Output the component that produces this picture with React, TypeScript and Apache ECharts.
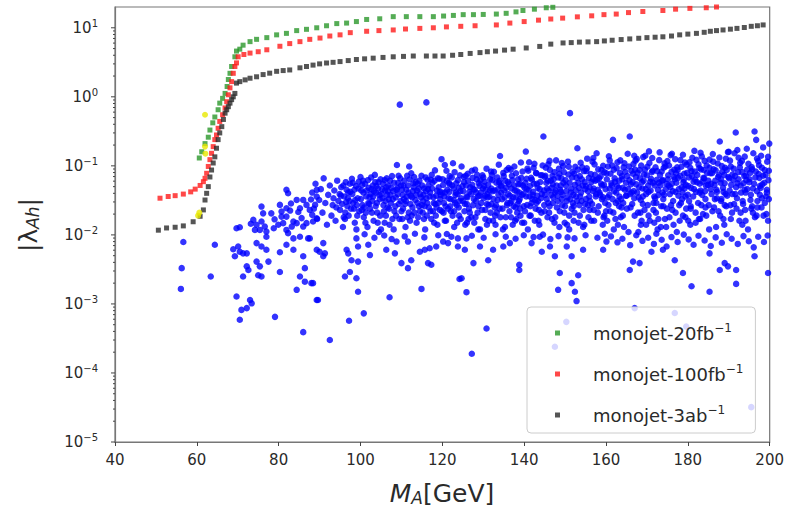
import { useEffect, useRef } from "react";
import * as echarts from "echarts";

const FONT = "DejaVu Sans";

// Parameter-scan points (M_A in GeV, |lambda_Ah|)
const scanPoints: [number, number][] = [
  // low-mass region
  [56.7,0.0079],[64.4,0.0072],[56.3,0.0033],[56.1,0.00165],[63.4,0.0025],[69.7,0.0125],[70.5,0.0129],[73.8,0.0165],
  [74.6,0.014],[75.4,0.0118],[76.6,0.0132],[77.0,0.0112],[74.2,0.0118],[77.0,0.0094],[75.8,0.0156],[68.9,0.0062],
  [70.1,0.0068],[71.3,0.0054],[70.5,0.0057],[72.2,0.0054],[69.3,0.0049],[74.6,0.0076],[75.8,0.0068],[77.0,0.0061],
  [72.2,0.0035],[72.6,0.0031],[74.6,0.0041],[75.4,0.0035],[77.5,0.0041],[75.0,0.0026],[71.3,0.0025],[75.8,0.0025],
  [80.3,0.0029],[69.7,0.00128],[73.0,0.00114],[73.4,0.00102],[70.9,0.00082],[72.2,0.00087],[70.5,0.00059],[79.1,0.00065],
  [86.0,0.00039],[75.8,0.0257],[81.9,0.0449],[82.3,0.0401],[80.3,0.0272],[81.9,0.0243],[84.4,0.0321],[86.0,0.0321],
  [86.8,0.0272],[85.2,0.0243],[87.6,0.023],[89.3,0.0449],[89.3,0.0359],[88.9,0.0272],[79.9,0.014],[81.1,0.0148],
  [81.9,0.0184],[83.2,0.0132],[83.6,0.0156],[84.4,0.0148],[86.0,0.0132],[86.8,0.0148],[88.4,0.0156],[89.3,0.0174],
  [80.7,0.0184],[80.7,0.0218],[81.9,0.0118],[82.3,0.0106],[83.6,0.0089],[85.2,0.0094],[87.2,0.0089],[81.9,0.0072],
  [83.6,0.0061],[86.0,0.0049],[86.4,0.0033],[84.4,0.0016],[85.2,0.0025],[86.4,0.0021],[88.0,0.002],[80.3,0.0056],
  [89.3,0.00114],[89.3,0.0061],[78.2,0.0205],[79.0,0.0168],[83.0,0.0285],[84.8,0.0215],[87.9,0.0325],[88.2,0.0195],
  [85.6,0.0175],[82.8,0.0225],[78.8,0.0125],[76.2,0.0205],[73.2,0.0145],
  // 88-100
  [88.2,0.041],[88.6,0.024],[89.0,0.055],[89.4,0.017],[89.9,0.032],[90.3,0.046],[90.7,0.021],[91.0,0.066],[91.4,0.029],
  [91.8,0.014],[92.1,0.038],[92.5,0.052],[92.9,0.019],[93.2,0.027],[93.6,0.044],[93.9,0.016],[94.3,0.061],[94.6,0.031],
  [95.0,0.023],[95.3,0.049],[95.7,0.013],[96.0,0.036],[96.4,0.058],[96.8,0.026],[97.1,0.019],[97.5,0.042],[97.9,0.065],
  [98.2,0.029],[98.6,0.015],[98.9,0.051],[99.3,0.034],[99.7,0.022],[100.0,0.069],[100.2,0.044],[93.4,0.034],[94.9,0.039],
  [96.2,0.017],[97.3,0.031],[98.4,0.024],[99.5,0.047],[95.5,0.028],[96.6,0.045],[99.0,0.012],[94.1,0.025],
  // 100-110
  [100.5,0.027],[100.8,0.018],[101.1,0.055],[101.4,0.036],[101.7,0.013],[102.0,0.048],[102.3,0.024],[102.6,0.068],
  [102.9,0.031],[103.2,0.016],[103.5,0.074],[103.8,0.041],[104.1,0.021],[104.4,0.058],[104.7,0.033],[105.0,0.012],
  [105.3,0.046],[105.6,0.027],[105.9,0.062],[106.2,0.019],[106.5,0.038],[106.8,0.052],[107.1,0.014],[107.4,0.029],
  [107.7,0.071],[108.0,0.043],[108.3,0.022],[108.6,0.035],[108.9,0.103],[109.2,0.057],[109.5,0.017],[109.8,0.031],
  [100.7,0.041],[101.9,0.029],[103.0,0.052],[104.2,0.015],[105.4,0.034],[106.6,0.025],[107.8,0.017],[109.0,0.048],
  [101.3,0.021],[102.5,0.039],[103.7,0.026],[104.9,0.064],[106.0,0.044],[107.3,0.038],[108.5,0.026],[109.7,0.066],
  [104.5,0.011],[106.9,0.033],
  // 110-120
  [110.1,0.045],[110.4,0.024],[110.7,0.061],[111.0,0.013],[111.3,0.036],[111.6,0.052],[111.9,0.098],[112.2,0.028],
  [112.5,0.019],[112.8,0.043],[113.1,0.069],[113.4,0.032],[113.7,0.015],[114.0,0.055],[114.3,0.026],[114.6,0.039],
  [114.9,0.072],[115.2,0.021],[115.5,0.047],[115.8,0.012],[116.1,0.034],[116.4,0.063],[116.7,0.025],[117.0,0.041],
  [117.3,0.017],[117.6,0.057],[117.9,0.029],[118.2,0.086],[118.5,0.037],[118.8,0.014],[119.1,0.049],[119.4,0.023],
  [119.8,0.125],[110.6,0.033],[111.8,0.021],[112.9,0.056],[114.1,0.018],[115.3,0.031],[116.5,0.046],[117.7,0.022],
  [118.9,0.066],[110.2,0.017],[111.4,0.072],[112.6,0.035],[113.8,0.044],[115.0,0.027],[116.2,0.019],[117.4,0.074],
  [118.6,0.025],[119.6,0.038],
  // 120-130
  [120.1,0.064],[120.4,0.029],[120.6,0.103],[120.9,0.016],[121.2,0.045],[121.5,0.034],[121.8,0.071],[122.1,0.022],
  [122.4,0.052],[122.6,0.109],[122.9,0.013],[123.2,0.038],[123.5,0.027],[123.8,0.062],[124.1,0.019],[124.4,0.043],
  [124.7,0.098],[125.0,0.031],[125.3,0.058],[125.6,0.014],[125.9,0.036],[126.2,0.077],[126.5,0.024],[126.8,0.049],
  [127.1,0.018],[127.4,0.067],[127.7,0.033],[128.0,0.088],[128.3,0.041],[128.6,0.021],[128.9,0.056],[129.2,0.012],
  [129.5,0.029],[129.8,0.073],[120.7,0.041],[121.9,0.026],[123.0,0.081],[124.2,0.031],[125.4,0.022],[126.6,0.042],
  [127.8,0.015],[129.0,0.037],[120.3,0.021],[121.6,0.057],[122.8,0.032],[124.0,0.048],[125.2,0.069],[126.4,0.017],
  [127.6,0.046],[128.8,0.026],[129.9,0.047],[123.6,0.015],[126.0,0.028],[128.4,0.064],[121.0,0.085],
  // 130-140
  [130.2,0.051],[130.5,0.023],[130.8,0.091],[131.1,0.035],[131.4,0.016],[131.7,0.064],[132.0,0.028],[132.3,0.043],
  [132.6,0.082],[132.9,0.019],[133.2,0.057],[133.5,0.032],[133.8,0.104],[134.1,0.139],[134.4,0.041],[134.7,0.024],
  [135.0,0.071],[135.3,0.013],[135.6,0.048],[135.9,0.029],[136.2,0.093],[136.5,0.037],[136.8,0.018],[137.1,0.062],
  [137.4,0.026],[137.7,0.044],[138.0,0.078],[138.3,0.021],[138.6,0.054],[138.9,0.033],[139.2,0.112],[139.5,0.015],
  [139.8,0.039],[130.4,0.037],[131.6,0.044],[132.8,0.025],[134.0,0.061],[135.2,0.035],[136.4,0.022],[137.6,0.098],
  [138.8,0.041],[130.9,0.014],[132.1,0.074],[133.3,0.021],[134.5,0.052],[135.7,0.087],[136.9,0.031],[138.1,0.017],
  [139.3,0.067],[131.3,0.027],[133.6,0.046],[136.0,0.058],[138.4,0.028],[139.7,0.052],[130.0,0.068],[132.4,0.016],
  [134.8,0.012],[137.2,0.014],[139.0,0.024],
  // 140-150
  [140.1,0.048],[140.4,0.161],[140.7,0.027],[141.0,0.085],[141.3,0.036],[141.6,0.019],[141.9,0.063],[142.2,0.042],
  [142.5,0.107],[142.8,0.024],[143.1,0.055],[143.4,0.031],[143.7,0.014],[144.0,0.073],[144.3,0.039],[144.7,0.266],
  [145.0,0.022],[145.3,0.094],[145.6,0.047],[145.9,0.029],[146.2,0.118],[146.5,0.061],[146.8,0.017],[147.1,0.035],
  [147.4,0.081],[147.7,0.044],[148.0,0.025],[148.3,0.068],[148.6,0.013],[148.9,0.052],[149.2,0.033],[149.5,0.099],
  [149.8,0.021],[140.6,0.065],[141.8,0.029],[143.0,0.078],[144.2,0.021],[145.4,0.057],[146.6,0.038],[147.8,0.12],
  [149.0,0.042],[140.2,0.022],[141.4,0.051],[142.6,0.016],[143.8,0.046],[145.0,0.069],[146.2,0.026],[147.4,0.015],
  [148.6,0.077],[149.6,0.057],[142.0,0.033],[144.5,0.101],[146.9,0.072],[149.3,0.027],[140.9,0.012],[143.2,0.037],
  [145.7,0.018],[148.1,0.037],[141.2,0.113],[147.0,0.054],
  // 150-160
  [150.1,0.062],[150.4,0.031],[150.7,0.115],[151.0,0.019],[151.2,0.58],[151.5,0.047],[151.8,0.082],[152.1,0.026],
  [152.4,0.053],[152.7,0.036],[153.0,0.18],[153.3,0.015],[153.6,0.071],[153.9,0.041],[154.2,0.095],[154.5,0.023],
  [154.8,0.058],[155.1,0.033],[155.4,0.127],[155.7,0.018],[156.0,0.049],[156.3,0.076],[156.6,0.028],[156.9,0.043],
  [157.2,0.105],[157.7,0.152],[158.0,0.021],[158.3,0.066],[158.6,0.038],[158.9,0.087],[159.2,0.014],[159.5,0.053],
  [159.8,0.029],[150.3,0.043],[151.6,0.024],[152.8,0.067],[154.0,0.031],[155.2,0.084],[156.4,0.016],[157.6,0.039],
  [158.8,0.055],[150.8,0.075],[152.0,0.038],[153.2,0.057],[154.4,0.013],[155.6,0.027],[156.8,0.064],[158.0,0.045],
  [159.3,0.1],[150.5,0.014],[152.5,0.097],[154.9,0.046],[157.0,0.023],[159.0,0.033],[151.3,0.033],[153.5,0.027],
  [155.9,0.036],[157.4,0.061],[159.6,0.019],[153.8,0.111],
  // 160-170
  [160.1,0.078],[160.4,0.035],[160.7,0.138],[161.0,0.022],[161.3,0.056],[161.7,0.238],[162.0,0.043],[162.3,0.017],
  [162.6,0.093],[162.9,0.031],[163.2,0.061],[163.5,0.12],[163.8,0.025],[164.1,0.048],[164.4,0.013],[164.7,0.082],
  [165.0,0.037],[165.3,0.15],[165.8,0.266],[166.1,0.054],[166.4,0.028],[166.7,0.106],[167.0,0.019],[167.3,0.069],
  [167.6,0.041],[167.9,0.011],[168.2,0.087],[168.5,0.032],[168.8,0.058],[169.1,0.134],[169.4,0.023],[169.7,0.046],
  [160.3,0.016],[161.5,0.101],[162.7,0.051],[163.9,0.071],[165.1,0.024],[166.3,0.041],[167.5,0.126],[168.7,0.016],
  [160.9,0.047],[162.1,0.066],[163.3,0.036],[164.5,0.109],[165.7,0.062],[166.9,0.034],[168.1,0.049],[169.3,0.075],
  [160.6,0.027],[161.9,0.012],[163.6,0.018],[165.5,0.011],[167.1,0.088],[169.0,0.036],[164.2,0.029],[166.6,0.077],
  [168.4,0.021],[162.4,0.029],[164.9,0.057],[169.8,0.014],
  // 170-180
  [170.1,0.097],[170.4,0.042],[170.7,0.016],[171.0,0.065],[171.3,0.13],[171.6,0.029],[171.9,0.052],[172.2,0.021],
  [172.5,0.084],[172.8,0.038],[173.1,0.157],[173.4,0.013],[173.7,0.061],[174.0,0.033],[174.3,0.109],[174.6,0.046],
  [174.9,0.024],[175.2,0.073],[175.5,0.018],[175.8,0.143],[176.1,0.055],[176.4,0.031],[176.7,0.088],[177.0,0.042],
  [177.3,0.011],[177.6,0.067],[177.9,0.027],[178.2,0.121],[178.5,0.049],[178.8,0.019],[179.1,0.077],[179.4,0.036],
  [179.7,0.104],[170.2,0.027],[171.4,0.085],[172.6,0.012],[173.8,0.041],[175.0,0.117],[176.2,0.023],[177.4,0.095],
  [178.6,0.033],[170.8,0.059],[172.0,0.034],[173.2,0.074],[174.4,0.017],[175.6,0.039],[176.8,0.064],[178.0,0.016],
  [179.2,0.047],[170.5,0.162],[172.9,0.057],[175.3,0.052],[177.7,0.037],[179.6,0.024],[171.8,0.015],[174.1,0.094],
  [176.5,0.014],[178.9,0.058],[173.5,0.026],[177.1,0.078],
  // 180-190
  [180.1,0.051],[180.4,0.113],[180.7,0.024],[181.0,0.071],[181.3,0.036],[181.6,0.165],[181.9,0.015],[182.2,0.058],
  [182.5,0.029],[182.8,0.093],[183.1,0.044],[183.4,0.137],[183.7,0.02],[184.0,0.066],[184.3,0.033],[184.6,0.101],
  [184.9,0.053],[185.2,0.012],[185.5,0.078],[185.8,0.039],[186.1,0.148],[186.4,0.025],[186.7,0.061],[187.0,0.045],
  [187.3,0.108],[187.8,0.225],[188.1,0.031],[188.4,0.082],[188.7,0.017],[189.0,0.056],[189.3,0.127],[189.6,0.037],
  [189.9,0.069],[180.3,0.031],[181.5,0.046],[182.7,0.017],[183.9,0.087],[185.1,0.027],[186.3,0.089],[187.5,0.022],
  [188.7,0.042],[180.9,0.084],[182.1,0.122],[183.3,0.027],[184.5,0.019],[185.7,0.055],[186.9,0.013],[188.1,0.064],
  [189.4,0.026],[180.6,0.014],[182.9,0.041],[185.3,0.123],[187.1,0.034],[189.1,0.094],[181.8,0.063],[184.2,0.043],
  [186.6,0.033],[188.9,0.014],[183.6,0.059],[187.6,0.073],
  // 190-200
  [190.2,0.044],[190.5,0.098],[190.8,0.021],[191.1,0.063],[191.4,0.152],[191.7,0.304],[192.0,0.034],[192.3,0.081],
  [192.6,0.016],[192.9,0.052],[193.2,0.118],[193.5,0.028],[193.8,0.071],[194.1,0.041],[194.4,0.177],[194.7,0.012],
  [195.0,0.058],[195.3,0.032],[195.6,0.096],[195.9,0.047],[196.3,0.314],[196.7,0.238],[197.0,0.025],[197.3,0.076],
  [197.6,0.038],[197.9,0.14],[198.2,0.054],[198.5,0.019],[198.8,0.087],[199.1,0.036],[199.4,0.115],[199.7,0.062],
  [199.9,0.21],[190.4,0.027],[191.6,0.039],[192.8,0.11],[194.0,0.023],[195.2,0.079],[196.4,0.018],[197.6,0.051],
  [198.8,0.029],[190.9,0.075],[192.1,0.056],[193.3,0.014],[194.5,0.088],[195.7,0.026],[196.9,0.128],[198.1,0.034],
  [199.3,0.045],[190.0,0.16],[191.9,0.024],[193.9,0.045],[195.9,0.021],[197.4,0.102],[199.6,0.016],[192.4,0.131],
  [194.3,0.062],[196.5,0.068],[198.4,0.072],[199.8,0.033],
  // denser core of the band, 95-125
  [95.2,0.037],[95.8,0.052],[96.3,0.021],[96.9,0.034],[97.4,0.055],[97.7,0.024],[98.0,0.039],[98.5,0.045],[99.1,0.027],
  [99.6,0.059],[100.1,0.033],[100.4,0.053],[100.9,0.025],[101.5,0.044],[101.8,0.062],[102.2,0.035],[102.8,0.021],
  [103.3,0.043],[103.6,0.058],[104.0,0.029],[104.3,0.047],[104.8,0.019],[95.9,0.018],[97.0,0.041],[98.1,0.057],
  [99.2,0.019],[100.3,0.023],[101.2,0.015],[102.1,0.028],[103.1,0.036],[104.6,0.038],[98.7,0.032],[96.5,0.03],
  [100.6,0.061],[102.7,0.046],[103.9,0.051],
  [105.1,0.039],[105.5,0.055],[105.7,0.022],[106.1,0.031],[106.4,0.066],[106.7,0.043],[107.0,0.024],[107.5,0.048],
  [107.9,0.033],[108.2,0.057],[108.7,0.019],[109.1,0.039],[109.4,0.028],[109.9,0.052],[110.3,0.038],[110.5,0.052],
  [110.9,0.028],[111.2,0.045],[111.5,0.018],[111.7,0.041],[112.0,0.064],[112.3,0.037],[112.7,0.025],[113.0,0.049],
  [113.2,0.021],[113.5,0.058],[113.9,0.029],[114.2,0.047],[114.5,0.022],[114.8,0.035],[105.9,0.015],[107.2,0.061],
  [108.1,0.012],[109.3,0.072],[110.0,0.022],[111.1,0.031],[112.1,0.016],[113.6,0.038],[114.4,0.061],[106.3,0.049],
  [108.8,0.045],[112.4,0.078],
  [115.1,0.052],[115.4,0.038],[115.7,0.026],[115.9,0.068],[116.3,0.029],[116.6,0.052],[116.9,0.036],[117.1,0.022],
  [117.5,0.047],[117.8,0.035],[118.1,0.061],[118.4,0.019],[118.7,0.044],[119.0,0.029],[119.3,0.065],[119.5,0.033],
  [119.9,0.022],[120.2,0.053],[120.5,0.036],[120.8,0.026],[121.1,0.061],[121.4,0.024],[121.7,0.042],[122.0,0.033],
  [122.3,0.068],[122.5,0.019],[122.8,0.047],[123.1,0.029],[123.4,0.056],[123.7,0.039],[124.0,0.025],[124.3,0.073],
  [124.6,0.034],[124.9,0.051],[116.0,0.043],[117.2,0.063],[118.3,0.028],[119.4,0.042],[120.6,0.016],[121.8,0.054],
  [122.9,0.022],[124.5,0.017],[115.5,0.017],[118.0,0.015],[120.0,0.041],[123.3,0.041],
  // denser core of the band, 125-155
  [125.1,0.043],[125.5,0.028],[125.8,0.052],[126.1,0.035],[126.3,0.061],[126.7,0.021],[127.0,0.039],[127.3,0.053],
  [127.5,0.027],[127.9,0.045],[128.2,0.031],[128.5,0.074],[128.7,0.036],[129.1,0.051],[129.4,0.041],[129.7,0.023],
  [130.1,0.034],[130.3,0.059],[130.6,0.045],[130.9,0.028],[131.2,0.053],[131.5,0.036],[131.8,0.021],[132.0,0.047],
  [132.2,0.062],[132.5,0.033],[132.8,0.044],[133.1,0.027],[133.4,0.068],[133.7,0.038],[134.0,0.024],[134.3,0.051],
  [134.6,0.033],[134.9,0.079],[126.0,0.015],[127.2,0.085],[128.1,0.018],[129.3,0.062],[130.5,0.017],[131.9,0.083],
  [133.0,0.014],[134.2,0.018],[125.7,0.072],[128.8,0.012],[131.0,0.039],[133.9,0.057],
  [135.1,0.044],[135.4,0.061],[135.8,0.027],[136.1,0.039],[136.3,0.054],[136.6,0.029],[136.9,0.047],[137.0,0.072],
  [137.3,0.035],[137.6,0.052],[137.9,0.025],[138.2,0.043],[138.5,0.064],[138.7,0.031],[139.0,0.055],[139.4,0.038],
  [139.6,0.083],[139.9,0.026],[140.3,0.057],[140.5,0.036],[140.8,0.091],[141.1,0.044],[141.5,0.026],[141.7,0.067],
  [142.1,0.038],[142.4,0.055],[142.7,0.032],[142.9,0.079],[143.3,0.048],[143.6,0.023],[143.9,0.058],[144.1,0.034],
  [144.4,0.073],[144.8,0.044],[135.5,0.018],[136.7,0.088],[137.8,0.016],[139.1,0.019],[140.0,0.015],[141.3,0.019],
  [142.3,0.094],[143.5,0.016],[144.9,0.027],[138.0,0.035],[140.6,0.046],[143.0,0.029],
  [145.1,0.038],[145.2,0.072],[145.5,0.033],[145.8,0.061],[146.0,0.044],[146.3,0.087],[146.7,0.048],[147.0,0.029],
  [147.2,0.064],[147.5,0.041],[147.9,0.052],[148.2,0.031],[148.5,0.091],[148.8,0.045],[149.1,0.066],[149.4,0.038],
  [149.7,0.081],[150.0,0.026],[150.2,0.052],[150.6,0.035],[150.9,0.097],[151.1,0.057],[151.4,0.041],[151.7,0.068],
  [151.9,0.029],[152.2,0.077],[152.6,0.044],[152.9,0.031],[153.1,0.088],[153.4,0.048],[153.7,0.036],[154.1,0.064],
  [154.3,0.052],[154.6,0.084],[154.9,0.028],[146.1,0.021],[147.6,0.018],[148.7,0.022],[149.9,0.015],[151.0,0.012],
  [152.1,0.016],[153.6,0.019],[154.7,0.014],[145.9,0.105],[149.2,0.11],[152.3,0.021],
  // denser core of the band, 155-185
  [155.1,0.051],[155.3,0.092],[155.6,0.043],[155.8,0.067],[156.1,0.031],[156.4,0.058],[156.7,0.115],[157.0,0.047],
  [157.3,0.074],[157.5,0.036],[157.8,0.063],[158.1,0.089],[158.4,0.041],[158.7,0.071],[159.0,0.052],[159.3,0.035],
  [159.6,0.081],[159.9,0.046],[160.2,0.064],[160.5,0.098],[160.8,0.038],[161.1,0.077],[161.4,0.052],[161.6,0.033],
  [161.9,0.088],[162.2,0.059],[162.5,0.041],[162.8,0.113],[163.1,0.048],[163.4,0.079],[163.7,0.033],[164.0,0.064],
  [164.3,0.095],[164.6,0.045],[164.9,0.037],[156.0,0.023],[157.1,0.016],[158.2,0.026],[159.4,0.018],[160.0,0.022],
  [161.8,0.021],[162.9,0.014],[164.1,0.019],[156.9,0.13],[160.9,0.12],[163.2,0.026],
  [165.2,0.071],[165.4,0.046],[165.6,0.098],[165.9,0.039],[166.2,0.085],[166.5,0.058],[166.8,0.043],[167.2,0.119],
  [167.4,0.054],[167.7,0.079],[168.0,0.035],[168.3,0.066],[168.6,0.101],[168.9,0.047],[169.2,0.061],[169.5,0.088],
  [169.8,0.039],[170.0,0.073],[170.3,0.052],[170.6,0.11],[170.9,0.044],[171.2,0.081],[171.5,0.057],[171.8,0.036],
  [172.1,0.095],[172.4,0.063],[172.7,0.045],[173.0,0.121],[173.3,0.052],[173.6,0.083],[173.9,0.062],[174.2,0.038],
  [174.5,0.098],[174.8,0.055],[166.0,0.025],[167.8,0.021],[169.0,0.028],[170.4,0.019],[171.6,0.023],[172.8,0.017],
  [174.0,0.026],[166.9,0.14],[169.6,0.14],[172.3,0.029],[174.7,0.013],[168.5,0.014],
  [175.1,0.064],[175.4,0.101],[175.7,0.049],[176.0,0.082],[176.3,0.043],[176.6,0.069],[176.9,0.125],[177.2,0.057],
  [177.5,0.087],[177.8,0.046],[178.1,0.072],[178.4,0.097],[178.7,0.041],[179.0,0.063],[179.3,0.112],[179.5,0.053],
  [179.8,0.079],[180.0,0.038],[180.3,0.068],[180.6,0.094],[180.8,0.048],[181.1,0.131],[181.4,0.059],[181.7,0.083],
  [182.0,0.042],[182.3,0.074],[182.6,0.105],[182.9,0.055],[183.2,0.089],[183.5,0.038],[183.8,0.067],[184.1,0.118],
  [184.4,0.052],[184.7,0.079],[175.9,0.027],[177.0,0.021],[178.3,0.029],[179.4,0.018],[180.7,0.026],[181.9,0.021],
  [183.0,0.017],[184.3,0.025],[176.1,0.15],[178.8,0.145],[183.1,0.155],[180.1,0.016],
  // denser core of the band, 185-200
  [185.0,0.061],[185.3,0.094],[185.6,0.046],[185.9,0.078],[186.2,0.115],[186.5,0.053],[186.8,0.086],[187.1,0.042],
  [187.4,0.069],[187.7,0.132],[188.0,0.057],[188.3,0.099],[188.6,0.048],[188.9,0.074],[189.2,0.039],[189.5,0.087],
  [189.8,0.158],[190.1,0.066],[190.3,0.119],[190.6,0.053],[190.9,0.039],[191.2,0.091],[191.5,0.071],[191.8,0.049],
  [192.1,0.17],[192.4,0.064],[192.7,0.095],[193.0,0.041],[193.3,0.081],[193.6,0.056],[193.9,0.136],[194.2,0.072],
  [194.5,0.046],[194.8,0.107],[195.1,0.064],[195.4,0.038],[195.7,0.089],[196.0,0.152],[196.2,0.055],[196.6,0.083],
  [196.9,0.043],[197.2,0.117],[197.5,0.067],[197.8,0.048],[198.1,0.094],[198.4,0.185],[198.7,0.057],[199.0,0.074],
  [199.3,0.041],[199.6,0.135],[199.8,0.085],[186.0,0.022],[187.9,0.019],[189.0,0.027],[190.5,0.017],[191.3,0.028],
  [192.9,0.021],[194.1,0.016],[195.5,0.024],[196.8,0.019],[198.0,0.025],[199.2,0.02],[188.2,0.033],[193.4,0.031],
  [197.0,0.031],
  // lower fringe of the band
  [161.2,0.0095],[162.8,0.0078],[164.0,0.0088],[165.9,0.0071],[167.4,0.0099],[168.9,0.0082],[170.3,0.0091],[171.7,0.0074],
  [172.3,0.0104],[173.6,0.0085],[174.8,0.0068],[176.0,0.0093],[177.5,0.0079],[179.0,0.0101],[180.2,0.0086],[181.4,0.0072],
  [182.6,0.0097],[184.1,0.0083],[185.6,0.0069],[186.8,0.0092],[188.3,0.0077],[189.5,0.0102],[190.7,0.0088],[192.2,0.0074],
  [193.6,0.0096],[194.9,0.0081],[196.1,0.0066],[197.2,0.0094],[198.6,0.0079],[199.5,0.0098],
  [101.0,0.0102],[103.4,0.0091],[105.8,0.0098],[107.6,0.0087],[110.8,0.0095],[113.3,0.0104],[115.6,0.0092],[119.0,0.0099],
  [121.1,0.0103],[122.2,0.0094],[127.2,0.0097],[130.1,0.0091],[133.0,0.0102],[135.5,0.0094],[137.9,0.0088],[139.9,0.0099],
  [142.3,0.0093],[144.6,0.0101],[146.4,0.0087],[148.4,0.0096],[150.6,0.0092],[152.3,0.0089],[155.0,0.0099],[157.9,0.0091],
  [159.7,0.0104],
  // scattered points below the band
  [87.6,0.0089],[90.9,0.0076],[91.3,0.0054],[90.9,0.0049],[90.0,0.0057],[96.6,0.0061],[97.0,0.0054],[99.0,0.0089],
  [99.4,0.0068],[102.3,0.0051],[101.9,0.0072],[97.8,0.0043],[99.4,0.0041],[106.3,0.0061],[108.4,0.0054],[108.8,0.008],
  [111.6,0.008],[110.0,0.0039],[111.6,0.0033],[112.4,0.0043],[114.5,0.0057],[115.7,0.0061],[116.9,0.0064],[116.5,0.0039],
  [117.3,0.0037],[118.5,0.0068],[120.2,0.008],[121.4,0.0076],[123.8,0.0089],[123.8,0.0068],[125.9,0.0089],[97.4,0.0029],
  [96.2,0.0025],[99.0,0.00235],[99.4,0.0015],[88.4,0.002],[89.6,0.00114],[107.1,0.00125],[114.9,0.00165],[124.2,0.0023],
  [125.9,0.00148],[97.2,0.00057],[100.8,0.00073],[92.5,0.0003],[127.2,0.00019],[130.8,0.00044],
  [127.6,0.0039],[131.2,0.0043],[138.8,0.0037],[138.8,0.0031],[124.7,0.00235],[148.7,0.0028],[153.2,0.0026],[148.3,0.0016],
  [151.6,0.002],[152.4,0.0015],[152.8,0.0011],[144.3,0.0057],[146.3,0.0068],[147.5,0.0049],[150.4,0.0068],[151.6,0.0049],
  [154.4,0.0061],[159.3,0.0061],[160.1,0.008],[125.5,0.0061],[129.2,0.0068],[132.4,0.0061],[134.9,0.0068],[136.5,0.0076],
  [141.8,0.0076],[143.8,0.0094],
  [165.8,0.0031],[168.2,0.0039],[176.8,0.0043],[178.8,0.0028],[180.9,0.0018],[185.3,0.0015],[187.8,0.0031],[189.0,0.0039],
  [189.8,0.0035],[191.8,0.0031],[191.8,0.00195],[199.6,0.0028],[196.3,0.0049],[185.3,0.0054],[173.9,0.0061],[166.6,0.0041],
  [171.1,0.0057],
  [150.3,0.00055],[167.0,0.00087],[176.8,0.00074],[179.6,0.00047],[147.5,0.00024],[195.5,0.000032],
  // isolated large couplings
  [109.6,0.77],[116.1,0.83],
];

// Monojet reach, 20 fb^-1
const monojet20: [number, number][] = [
  [60.6,0.13],[61.2,0.16],[62.0,0.21],[62.8,0.26],[63.2,0.33],[63.9,0.42],[64.4,0.51],[65.2,0.65],[65.6,0.81],
  [66.3,0.95],[66.9,1.12],[67.4,1.41],[67.7,1.78],[68.1,2.19],[68.5,2.75],[69.3,3.8],[69.7,4.6],[70.5,4.9],[71.3,5.6],
  [73.0,6.3],[74.6,6.8],[77.1,7.2],[79.5,7.9],[81.9,8.3],[84.4,9.1],[86.8,9.5],[89.3,10.0],[91.7,10.7],[94.2,11.5],
  [96.6,11.7],[99.0,12.3],[101.5,13.2],[104.7,13.5],[108.0,14.5],[111.2,14.5],[114.5,14.5],[117.8,14.5],[120.3,14.8],
  [122.7,15.1],[125.1,15.5],[127.6,15.5],[130.0,15.6],[133.2,15.8],[135.6,16.2],[138.0,17.0],[139.7,17.8],[142.5,18.6],
  [145.4,19.5],[147.0,19.8],
];

// Monojet reach, 100 fb^-1
const monojet100: [number, number][] = [
  [51.0,0.034],[53.0,0.036],[54.7,0.037],[56.7,0.039],[58.5,0.042],[59.6,0.046],[60.8,0.052],[61.6,0.059],[62.0,0.066],
  [62.4,0.078],[62.8,0.098],[63.2,0.123],[63.6,0.152],[64.0,0.19],[64.4,0.24],[64.8,0.28],[65.2,0.35],[65.6,0.44],
  [66.3,0.55],[66.9,0.69],[67.3,0.85],[67.7,1.07],[68.1,1.35],[68.5,1.66],[68.9,2.19],[69.3,2.75],[69.7,3.1],[70.1,3.8],
  [71.5,4.1],[73.0,4.3],[75.0,4.5],[77.1,4.8],[80.3,5.4],[82.7,5.9],[85.2,6.3],[87.6,6.8],[90.1,7.1],[92.5,7.6],
  [95.0,7.9],[97.5,8.5],[101.5,8.9],[104.5,9.1],[108.0,9.3],[111.0,9.6],[114.5,9.8],[117.8,10.0],[121.0,10.3],
  [124.5,10.5],[128.0,10.7],[133.2,11.0],[136.5,11.7],[140.0,12.3],[143.5,12.9],[146.5,13.4],[149.4,13.8],[153.0,14.4],
  [156.5,14.9],[159.5,15.5],[162.5,15.8],[165.5,16.6],[169.0,17.2],[173.9,17.8],[177.0,18.6],[180.5,19.1],[184.5,19.5],
  [187.0,20.0],
];

// Monojet reach, 3 ab^-1
const monojet3ab: [number, number][] = [
  [50.6,0.0117],[52.6,0.0126],[54.7,0.0129],[56.7,0.0135],[59.1,0.0155],[60.8,0.0186],[61.6,0.023],[62.0,0.032],
  [62.4,0.040],[62.8,0.050],[63.2,0.069],[63.6,0.087],[64.0,0.11],[64.4,0.135],[64.8,0.18],[65.2,0.24],[65.6,0.30],
  [66.1,0.37],[66.5,0.47],[66.9,0.58],[67.3,0.65],[67.7,0.72],[68.1,0.81],[68.5,0.91],[68.9,1.0],[69.3,1.12],
  [69.7,1.58],[70.5,1.66],[71.8,1.76],[73.0,1.86],[74.6,1.95],[76.2,2.1],[77.8,2.2],[79.5,2.34],[81.1,2.4],[82.7,2.45],
  [85.2,2.63],[86.8,2.75],[88.4,2.88],[90.0,3.0],[91.7,3.09],[93.3,3.16],[95.0,3.24],[97.0,3.35],[99.0,3.47],
  [101.0,3.55],[103.1,3.63],[105.5,3.72],[108.0,3.8],[110.5,3.85],[112.9,3.9],[116.1,3.9],[118.2,3.9],[120.2,3.9],
  [122.5,4.0],[124.5,4.1],[126.8,4.25],[129.2,4.37],[131.0,4.5],[133.0,4.6],[135.2,4.75],[137.3,4.9],[140.5,5.1],
  [143.8,5.37],[146.5,5.8],[149.5,6.03],[151.5,6.1],[153.5,6.2],[155.6,6.25],[157.7,6.3],[159.6,6.45],[161.5,6.6],
  [163.7,6.75],[165.8,6.9],[168.0,7.05],[170.0,7.2],[172.0,7.3],[173.9,7.4],[176.0,7.6],[178.0,7.9],[180.0,8.1],
  [182.1,8.3],[184.0,8.6],[185.5,8.9],[187.0,9.1],[188.6,9.3],[190.4,9.55],[192.0,9.8],[193.8,10.1],[195.5,10.5],
  [197.0,10.7],[198.4,11.0],
];

// Highlighted benchmark points
const benchmarkPoints: [number, number][] = [
  [62.0,0.55],[62.0,0.19],[62.1,0.15],[60.3,0.019],[60.6,0.021],
];

// Axis ticks on the logarithmic |lambda| axis
const decades = [1e-5, 1e-4, 1e-3, 1e-2, 1e-1, 1, 10];
const minorMantissas = [2, 3, 4, 5, 6, 7, 8, 9];

const legendNames = ["monojet-20fb", "monojet-100fb", "monojet-3ab"];

export default function App() {
  const ref = useRef<HTMLDivElement>(null);

  useEffect(() => {
    document.body.style.margin = "0";
    if (!ref.current) return;
    const chart = echarts.init(ref.current, undefined, { renderer: "svg" });

    const tickData: number[][] = [];
    decades.forEach((d) => tickData.push([40, d, 4]));
    decades.slice(0, -1).forEach((d) =>
      minorMantissas.forEach((m) => tickData.push([40, d * m, 2]))
    );

    const textColor = "#2a2a2a";

    chart.setOption({
      animation: false,
      backgroundColor: "#fff",
      grid: {
        left: 115,
        right: 17,
        top: 7,
        bottom: 67,
        show: true,
        borderColor: "#777",
        borderWidth: 1.2,
        backgroundColor: "transparent",
      },
      xAxis: {
        type: "value",
        min: 40,
        max: 200,
        interval: 20,
        splitLine: { show: false },
        axisLine: { show: true, lineStyle: { color: "#777", width: 1.2 } },
        axisTick: { show: true, length: 4, lineStyle: { color: "#444" } },
        axisLabel: {
          fontFamily: FONT,
          fontSize: 15,
          color: textColor,
          margin: 10,
        },
      },
      yAxis: {
        type: "log",
        logBase: 10,
        min: 1e-5,
        max: 20,
        splitLine: { show: false },
        axisLine: { show: true, lineStyle: { color: "#777", width: 1.2 } },
        axisTick: { show: false },
        axisLabel: {
          margin: 17,
          formatter: (v: number) => {
            const e = Math.log10(v);
            const r = Math.round(e);
            if (Math.abs(e - r) > 1e-6) return "";
            return "{b|10}{e|" + (r < 0 ? "\u2212" + -r : String(r)) + "}";
          },
          rich: {
            b: { fontFamily: FONT, fontSize: 15, color: textColor },
            e: { fontFamily: FONT, fontSize: 10, color: textColor, padding: [0, 0, 9, 0] },
          },
        },
      },
      legend: {
        data: legendNames,
        orient: "vertical",
        left: 527,
        top: 307,
        padding: [15, 12, 7, 28],
        itemGap: 19,
        itemWidth: 5,
        itemHeight: 5,
        icon: "rect",
        backgroundColor: "rgba(255,255,255,0.8)",
        borderColor: "#cccccc",
        borderWidth: 1,
        borderRadius: 4,
        formatter: (name: string) => name + "{sup|\u22121}",
        textStyle: {
          fontFamily: FONT,
          fontSize: 18,
          lineHeight: 20,
          color: textColor,
          padding: [0, 0, 0, 28],
          rich: {
            sup: { fontFamily: FONT, fontSize: 12, lineHeight: 20, color: textColor, padding: [0, 0, 10, 0] },
          },
        },
      },
      graphic: [
        {
          type: "text",
          x: 28,
          y: 225,
          rotation: Math.PI / 2,
          style: {
            text: "|\u03bb{s|Ah}|",
            fontFamily: FONT,
            fontSize: 25,
            fill: textColor,
            align: "center",
            verticalAlign: "middle",
            rich: {
              s: { fontFamily: FONT, fontSize: 17, fontStyle: "italic", fill: textColor, padding: [10, 0, 0, 0] },
            },
          },
        },
        {
          type: "text",
          x: 442,
          y: 493,
          style: {
            text: "{i|M}{s|A}[GeV]",
            fontFamily: FONT,
            fontSize: 25,
            fill: textColor,
            align: "center",
            verticalAlign: "middle",
            rich: {
              i: { fontFamily: FONT, fontSize: 25, fontStyle: "italic", fill: textColor },
              s: { fontFamily: FONT, fontSize: 17, fontStyle: "italic", fill: textColor, padding: [10, 0, 0, 0] },
            },
          },
        },
      ],
      series: [
        {
          name: "scan",
          type: "scatter",
          data: scanPoints,
          symbol: "circle",
          symbolSize: 6.5,
          itemStyle: { color: "#0000ff" },
          silent: true,
          large: false,
        },
        {
          name: "monojet-20fb",
          type: "scatter",
          data: monojet20,
          symbol: "rect",
          symbolSize: 5,
          itemStyle: { color: "#2a972a" },
        },
        {
          name: "monojet-100fb",
          type: "scatter",
          data: monojet100,
          symbol: "rect",
          symbolSize: 5,
          itemStyle: { color: "#ff1a1a" },
        },
        {
          name: "monojet-3ab",
          type: "scatter",
          data: monojet3ab,
          symbol: "rect",
          symbolSize: 5,
          itemStyle: { color: "#2b2b2b" },
        },
        {
          name: "benchmark",
          type: "scatter",
          data: benchmarkPoints,
          symbol: "circle",
          symbolSize: 6,
          itemStyle: { color: "#e8e800" },
        },
        {
          name: "yticks",
          type: "custom",
          clip: false,
          silent: true,
          data: tickData,
          encode: { x: 0, y: 1 },
          renderItem: (_params: any, api: any) => {
            const p = api.coord([api.value(0), api.value(1)]);
            const len = api.value(2);
            return {
              type: "line",
              shape: { x1: p[0] - len, y1: p[1], x2: p[0], y2: p[1] },
              style: { stroke: "#444", lineWidth: 1 },
            };
          },
        },
      ],
    });

    return () => chart.dispose();
  }, []);

  return <div ref={ref} style={{ width: 787, height: 509 }} />;
}
